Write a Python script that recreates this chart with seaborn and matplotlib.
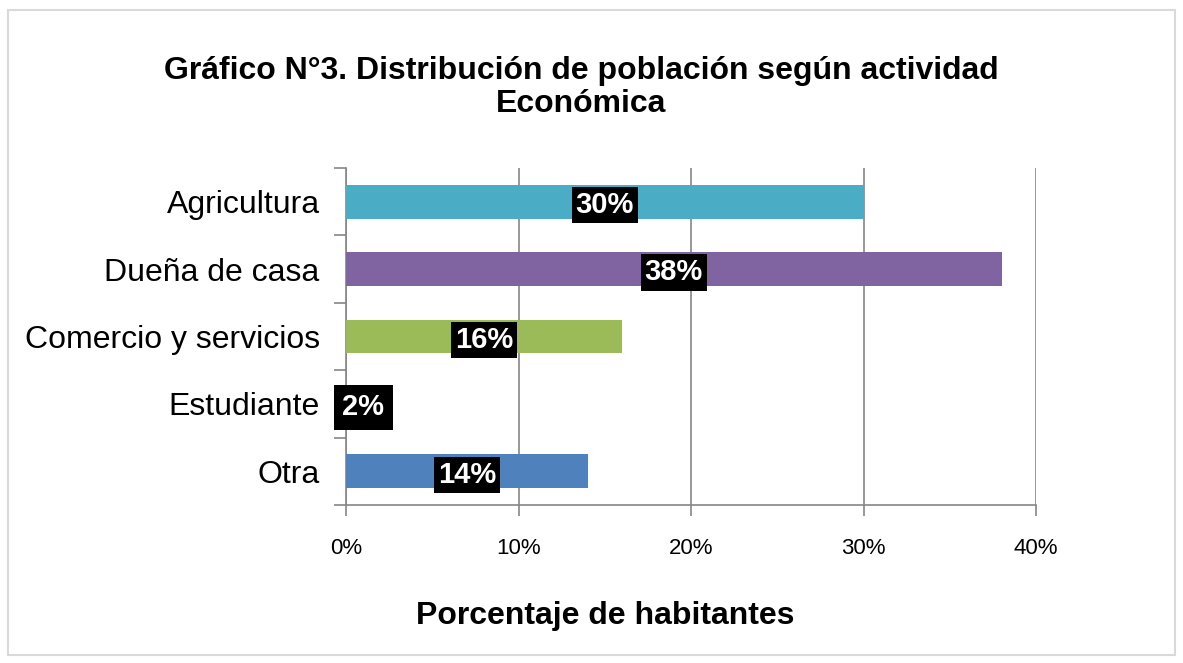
import matplotlib
matplotlib.use("Agg")
import matplotlib.pyplot as plt
from matplotlib.patches import Rectangle
import seaborn as sns
import pandas as pd

categories = ["Agricultura", "Dueña de casa", "Comercio y servicios", "Estudiante", "Otra"]
values = [30, 38, 16, 2, 14]
colors = ["#4BACC6", "#8064A2", "#9BBB59", "#C0504D", "#4F81BD"]
x_ticks = [0, 10, 20, 30, 40]
x_tick_labels = ["0%", "10%", "20%", "30%", "40%"]

sns.set_style("white")
plt.rcParams["font.family"] = ["Liberation Sans", "DejaVu Sans"]
plt.rcParams["text.color"] = "black"
plt.rcParams["xtick.color"] = "#868686"
plt.rcParams["ytick.color"] = "#868686"
plt.rcParams["xtick.labelcolor"] = "black"
plt.rcParams["ytick.labelcolor"] = "black"
plt.rcParams["axes.labelcolor"] = "black"

df = pd.DataFrame({"cat": categories, "val": values})

fig = plt.figure(figsize=(11.83, 6.63), dpi=100)
ax = fig.add_axes([0.2925, 0.2383, 0.5833, 0.5083])

sns.barplot(data=df, x="val", y="cat", hue="cat", palette=colors,
            order=categories, hue_order=categories, legend=False,
            width=0.5, saturation=1, linewidth=0, ax=ax, zorder=3)

ax.set_xlim(0, 40)
ax.set_ylim(len(categories) - 0.5, -0.5)
ax.set_xticks(x_ticks)
ax.set_xticklabels(x_tick_labels, fontsize=16)
ax.tick_params(axis="x", bottom=True, length=8, width=1.2, pad=16, direction="out")

# tick marks between categories, labels at centres
ax.set_yticks([i - 0.5 for i in range(len(categories) + 1)])
ax.set_yticklabels([""] * (len(categories) + 1))
ax.tick_params(axis="y", which="major", left=True, length=9, width=1.2, direction="out")
ax.set_yticks(range(len(categories)), minor=True)
ax.set_yticklabels(categories, minor=True, fontsize=23)
ax.tick_params(axis="y", which="minor", left=True, length=0, pad=19)

ax.grid(axis="x", color="#868686", linewidth=1.2, zorder=0)
ax.set_axisbelow(True)
for s in ["top", "right"]:
    ax.spines[s].set_visible(False)
for s in ["left", "bottom"]:
    ax.spines[s].set_color("#868686")
    ax.spines[s].set_linewidth(1.2)

ax.set_xlabel("Porcentaje de habitantes", fontsize=23, fontweight="bold", labelpad=30, x=0.375)
ax.set_ylabel("")

for i, v in enumerate(values):
    pad = 0.3 if v < 5 else 0.14
    ax.text(v / 2, i + 0.05, f"{v}%", ha="center", va="center", fontsize=21,
            fontweight="bold", color="white", zorder=5,
            bbox=dict(boxstyle=f"square,pad={pad}", facecolor="black", edgecolor="none"))

fig.text(0.491, 0.868, "Gráfico N°3. Distribución de población según actividad\nEconómica",
         ha="center", va="center", fontsize=23, fontweight="bold", linespacing=1.15)

fig.patches.append(Rectangle((0.007, 0.012), 0.986, 0.973, transform=fig.transFigure,
                             fill=False, edgecolor="#d9d9d9", linewidth=1.5))

fig.savefig("out.png", dpi=100)
